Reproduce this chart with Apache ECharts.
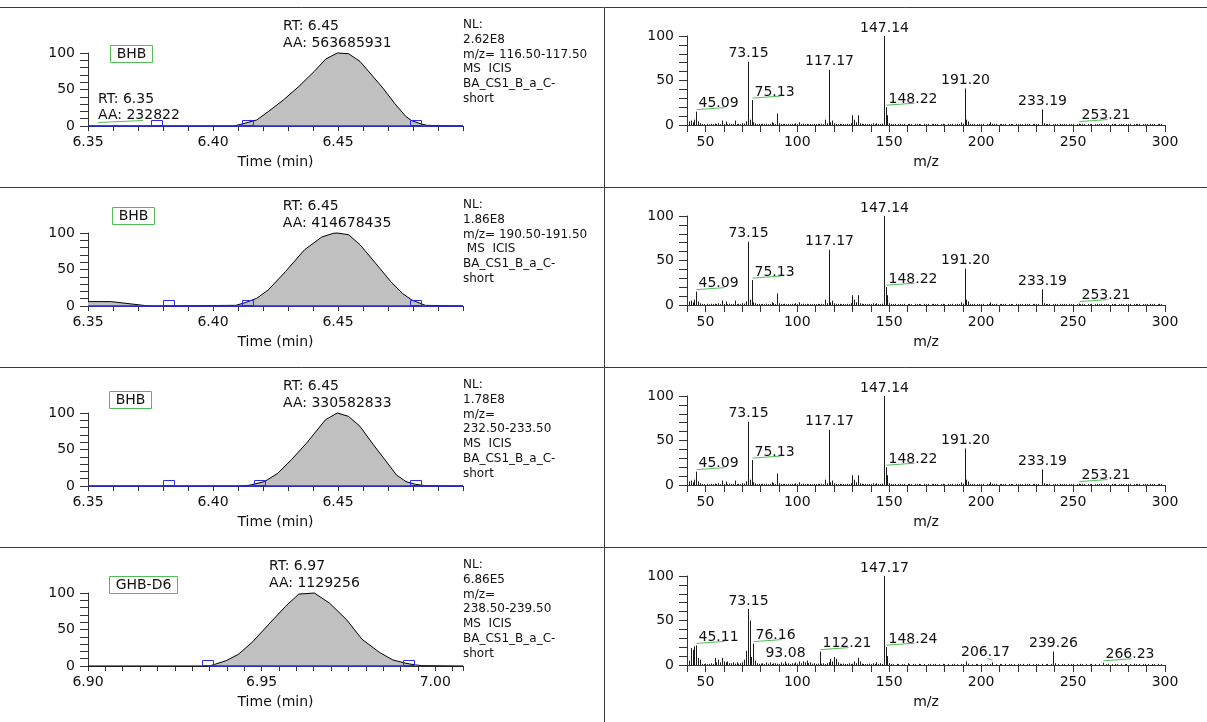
<!DOCTYPE html>
<html>
<head>
<meta charset="utf-8">
<script src="https://cdn.jsdelivr.net/npm/echarts@6/dist/echarts.min.js"></script>
<style>
  html, body { margin: 0; padding: 0; background: #fff; }
  #chart { width: 1207px; height: 722px; }
</style>
</head>
<body>
<div id="chart"></div>
<script>
// ---------- compound / acquisition info ----------
const compounds = ['BHB', 'BHB', 'BHB', 'GHB-D6'];
const rtText = ['6.45', '6.45', '6.45', '6.97'];
const areaText = ['563685931', '414678435', '330582833', '1129256'];
const nlLines = [
  ['NL:', '2.62E8', 'm/z= 116.50-117.50', 'MS  ICIS', 'BA_CS1_B_a_C-', 'short'],
  ['NL:', '1.86E8', 'm/z= 190.50-191.50', ' MS  ICIS', 'BA_CS1_B_a_C-', 'short'],
  ['NL:', '1.78E8', 'm/z=', '232.50-233.50', 'MS  ICIS', 'BA_CS1_B_a_C-', 'short'],
  ['NL:', '6.86E5', 'm/z=', '238.50-239.50', 'MS  ICIS', 'BA_CS1_B_a_C-', 'short']
];
// secondary peak in the first trace
const minorRt = '6.35';
const minorArea = '232822';
const minorAnchor = 6.35;

// ---------- chromatogram traces (time in min, relative abundance %) ----------
const trace1Time = [6.35, 6.4083, 6.4117, 6.4175, 6.4221, 6.4282, 6.4343, 6.4405, 6.4451, 6.4497, 6.4542, 6.4588, 6.4634, 6.4680, 6.4726, 6.4772, 6.4795, 6.4833, 6.4856, 6.50];
const trace1Int  = [0, 0, 2.8, 8.3, 19.7, 35.8, 54.1, 74.8, 91.7, 100, 99.1, 88.5, 70.2, 51.8, 31.2, 12.8, 7.3, 2.8, 0.9, 0];
const trace2Time = [6.35, 6.3593, 6.3731, 6.3760, 6.4091, 6.4129, 6.4175, 6.4221, 6.4290, 6.4366, 6.4435, 6.4481, 6.4496, 6.4542, 6.4588, 6.4650, 6.4711, 6.4757, 6.4795, 6.4849, 6.50];
const trace2Int  = [6, 6, 0.5, 0, 0.9, 4.6, 10.6, 22, 47.2, 77, 94.5, 99.5, 100, 97.7, 84, 58.7, 33.5, 17.4, 8.3, 0.9, 0];
const trace3Time = [6.35, 6.4100, 6.4144, 6.4206, 6.4259, 6.4313, 6.4374, 6.4450, 6.4497, 6.4542, 6.4588, 6.4642, 6.4688, 6.4734, 6.4772, 6.4810, 6.4849, 6.50];
const trace3Int  = [0, 0, 0.9, 6, 17.4, 35.8, 58.7, 90.8, 100, 95.4, 81.7, 56.4, 35.8, 15.1, 6, 2.3, 0.5, 0];
const trace4Time = [6.90, 6.9349, 6.9365, 6.9398, 6.9433, 6.9475, 6.9519, 6.9569, 6.9607, 6.9652, 6.9696, 6.9745, 6.9789, 6.9839, 6.9878, 6.9916, 6.9944, 6.9961, 7.008];
const trace4Int  = [0, 0, 2.3, 7.3, 16, 33.5, 56.4, 81.7, 98.5, 100, 86, 63.3, 36.7, 18.8, 8.3, 3.7, 1.4, 0.5, 0];

// integration baselines [start, end] and peak boundary marks
const baselines = [[6.35, 6.50], [6.35, 6.50], [6.35, 6.50], [6.9345, 6.9925]];
const boundaries = [
  [6.3777, 6.4140, 6.4813],
  [6.3823, 6.4140, 6.4813],
  [6.3823, 6.4186, 6.4813],
  [6.9345, 6.9925]
];

// time axis ranges
const timeMin = [6.35, 6.35, 6.35, 6.90];
const timeMax = [6.50, 6.50, 6.50, 7.008];
const timeStep = [0.01, 0.01, 0.01, 0.005];

// ---------- mass spectra [m/z, relative abundance %] ----------
const bhbPeaks = [
  [41, 4], [42, 5], [43, 3], [44, 6], [45.09, 15], [46, 4], [47, 2], [48, 1.2], [49, 1], [51, 1.3], [52, 0.8],
  [53, 1.4], [54, 1], [55, 1.5], [56, 1.1], [57, 2], [58, 1], [59, 5], [60, 1.2], [61, 4], [62, 1], [63, 1.5],
  [64, 1], [65, 1.2], [66, 5], [67, 1], [68, 1.4], [69, 1], [70, 2], [71, 1.6], [72, 4], [73.15, 71], [74, 6],
  [75.13, 28], [76, 3], [77, 2], [78, 1], [79, 1.3], [80, 1], [81, 1.2], [82, 1], [83, 1.5], [84, 1], [85, 1.2],
  [86, 3], [87, 2], [88, 1], [89, 13], [90, 2], [91, 1.2], [92, 1], [93, 1.4], [94, 1], [95, 1.2], [96, 0.9],
  [97, 1.3], [98, 1], [99, 2], [100, 1], [101, 3], [102, 1.2], [103, 1.5], [104, 1], [105, 1.3], [106, 0.9],
  [107, 1.2], [108, 1], [109, 1.3], [110, 1], [111, 1.2], [112, 1], [113, 1.4], [114, 1], [115, 6], [116, 2],
  [117.17, 62], [118, 3], [119, 5], [120, 2], [121, 1.2], [122, 1], [123, 1.3], [124, 1], [125, 1.2], [126, 0.9],
  [127, 1.3], [128, 1], [129, 2], [130, 11], [131, 6], [132, 3], [133, 11], [134, 2], [135, 1.5], [136, 1],
  [137, 1.2], [138, 1], [139, 1.3], [140, 1], [141, 2], [142, 1], [143, 2], [144, 1.2], [145, 1], [146, 1.5],
  [147.14, 100], [148.22, 20], [149, 11], [150, 2], [151, 1.2], [152, 1], [153, 1.3], [155, 1], [156, 1.2],
  [157, 0.9], [158, 1.3], [160, 1], [161, 1.2], [162, 1], [164, 1.3], [165, 1], [166, 1.2], [167, 0.9],
  [169, 1.3], [170, 1], [171, 1.2], [173, 1], [174, 1.3], [175, 1], [176, 1.2], [178, 1], [179, 1.3],
  [180, 1], [182, 1.2], [183, 1], [184, 1.3], [186, 1], [187, 1.2], [188, 1], [189, 3], [190, 1.5],
  [191.20, 41], [192, 6], [193, 4], [194, 1.2], [195, 1], [196, 1.3], [198, 1], [199, 1.2], [200, 1],
  [201, 1.3], [203, 1], [204, 1.2], [205, 3], [206, 1.2], [207, 1], [208, 1.3], [210, 1], [211, 1.2],
  [212, 1], [213, 1.3], [215, 1], [216, 1.2], [217, 1], [219, 1.3], [220, 1], [221, 1.2], [222, 1],
  [224, 1.3], [225, 1], [226, 1.2], [228, 1], [229, 1.3], [230, 1], [231, 1.2], [233.19, 17.6], [234, 2],
  [235, 1.2], [236, 1], [237, 1.3], [239, 1], [240, 1.2], [241, 1], [243, 1.3], [244, 1], [245, 1.2],
  [246, 1], [248, 1.3], [249, 1], [250, 1.2], [252, 1], [253.21, 1.6], [254, 1], [255, 1.3], [256, 1],
  [258, 1.2], [259, 1], [260, 1.3], [262, 1], [263, 1.2], [264, 1], [265, 1.3], [267, 1], [268, 1.2],
  [269, 1], [271, 1.3], [272, 1], [273, 1.2], [275, 1], [276, 1.3], [277, 1], [279, 1.2], [280, 1],
  [281, 1.3], [283, 1], [284, 1.2], [285, 1], [286, 1.3], [288, 1], [289, 1.2], [290, 1], [292, 1.3],
  [293, 1], [294, 1.2], [296, 1], [297, 1.3], [298, 1]
];
const bhbLabels = [45.09, 73.15, 75.13, 117.17, 147.14, 148.22, 191.20, 233.19, 253.21];
const bhbLeader = [45.09, 75.13, 148.22, 253.21];

const ghbPeaks = [
  [41, 5], [42, 19], [43, 17], [44, 21], [45.11, 22], [46, 8], [47, 6], [48, 1.2], [49, 1], [50, 1.5], [51, 1],
  [52, 1.3], [53, 2], [54, 1.2], [55, 8], [56, 3], [57, 6], [58, 3], [59, 8], [60, 4], [61, 3], [62, 4],
  [63, 2], [64, 2], [65, 3], [66, 1.5], [67, 3], [68, 1.5], [69, 2], [70, 3], [71, 6], [72, 16], [73.15, 63],
  [74, 50], [75, 9], [76.16, 24], [77, 5], [78, 2], [79, 1.2], [80, 1.5], [81, 2], [82, 1.2], [83, 3],
  [84, 1.5], [85, 3], [86, 1.2], [87, 2], [88, 2], [89, 1.5], [90, 1.2], [91, 3], [92, 1.5], [93.08, 4],
  [94, 1.5], [95, 2], [96, 1.2], [97, 2], [98, 1.5], [99, 3], [100, 1.5], [101, 4], [102, 2], [103, 4],
  [104, 3], [105, 5], [106, 2], [107, 3], [108, 1.5], [109, 2], [110, 1.2], [111, 1.5], [112.21, 15],
  [113, 1.5], [114, 2], [115, 1.2], [116, 2], [117, 3], [118, 7], [119, 4], [120, 9], [121, 7], [122, 3],
  [123, 1.5], [124, 1.2], [125, 1.5], [126, 1], [127, 1.2], [128, 2], [129, 1], [130, 1.5], [131, 4],
  [132, 2], [133, 8], [134, 4], [135, 1.5], [136, 1.2], [137, 1], [138, 1.2], [139, 1.5], [140, 1],
  [141, 2], [142, 1.2], [143, 3], [144, 1.2], [145, 2], [146, 1.2], [147.17, 100], [148.24, 20], [149, 10],
  [150, 2], [151, 1.2], [152, 1], [154, 1.3], [155, 1], [157, 1.2], [158, 1], [160, 2], [161, 1],
  [163, 1.2], [164, 1], [166, 1.3], [167, 1], [169, 1.2], [171, 1], [172, 1.3], [174, 1], [175, 1.2],
  [177, 1], [179, 1.3], [180, 1], [182, 1.2], [184, 1], [185, 1.3], [187, 1], [189, 1.2], [190, 1],
  [192, 4], [193, 1.5], [195, 1], [197, 1.2], [198, 1], [200, 1.3], [202, 1], [203, 1.2], [205, 1],
  [206.17, 3], [208, 1], [210, 1.2], [211, 1], [213, 1.3], [215, 1], [216, 1.2], [218, 1], [220, 1.3],
  [221, 1], [223, 1.2], [225, 1], [226, 1.3], [228, 1], [230, 1.2], [231, 1], [233, 1.3], [235, 1],
  [236, 1.2], [238, 1], [239.26, 15], [240, 2], [242, 1], [244, 1.2], [245, 1], [247, 1.3], [249, 1],
  [250, 1.2], [252, 1], [254, 1.3], [255, 1], [257, 1.2], [259, 1], [260, 1.3], [262, 1], [264, 1.2],
  [266.23, 2.5], [268, 1], [269, 1.3], [271, 1], [273, 1.2], [274, 1], [276, 1.3], [278, 1], [279, 1.2],
  [281, 1], [283, 1.3], [284, 1], [286, 1.2], [288, 1], [289, 1.3], [291, 1], [293, 1.2], [294, 1],
  [296, 1.3], [298, 1]
];
const ghbLabels = [45.11, 73.15, 76.16, 93.08, 112.21, 147.17, 148.24, 206.17, 239.26, 266.23];
const ghbLeader = [45.11, 76.16, 112.21, 148.24, 266.23];
const ghbNudge = [206.17];

// ---------- rendering ----------
const FONT = '"DejaVu Sans", "Liberation Sans", sans-serif';
const INK = '#111';
const BLUE = '#2a2af2';
const GREEN = '#52bd57';
const ROW0 = 7.5, ROWH = 180;

const traces = [
  [trace1Time, trace1Int], [trace2Time, trace2Int], [trace3Time, trace3Int], [trace4Time, trace4Int]
];
const spectra = [
  [bhbPeaks, bhbLabels, bhbLeader, []],
  [bhbPeaks, bhbLabels, bhbLeader, []],
  [bhbPeaks, bhbLabels, bhbLeader, []],
  [ghbPeaks, ghbLabels, ghbLeader, ghbNudge]
];
// layout of the compound tag boxes (x, offset from row top)
const tagBox = [[110, 37.5], [112, 19.5], [109, 23.5], [109, 28.5]];

const measureCtx = document.createElement('canvas').getContext('2d');
function textWidth(s, size) {
  measureCtx.font = size + 'px ' + FONT;
  return measureCtx.measureText(s).width;
}
function intensityOf(peaks, mz) {
  const p = peaks.find(q => Math.abs(q[0] - mz) < 1e-6);
  return p ? p[1] : 0;
}
const txt = (size) => ({ fontSize: size, fontFamily: FONT, color: INK });

const grids = [], xAxes = [], yAxes = [], series = [], graphics = [];

for (let r = 0; r < 4; r++) {
  const top = ROW0 + r * ROWH;
  const gl = 2 * r, gr = 2 * r + 1;

  // chromatogram panel
  grids.push({ left: 88, width: 375, top: top + 45.5, height: 73 });
  const tMax = timeMax[r];
  xAxes.push({
    gridIndex: gl, type: 'value', min: timeMin[r], max: tMax, interval: timeStep[r],
    axisLine: { lineStyle: { color: '#333', width: 1 } },
    axisTick: { length: 5, lineStyle: { color: '#333' } },
    splitLine: { show: false },
    axisLabel: Object.assign(txt(14), {
      margin: 9, showMinLabel: true, showMaxLabel: true,
      formatter: v => {
        const k = Math.round(v * 20);
        return (Math.abs(v * 20 - k) < 1e-6 && v < tMax - 1e-6) ? v.toFixed(2) : '';
      }
    }),
    name: 'Time (min)', nameLocation: 'middle', nameGap: 29, nameTextStyle: txt(14)
  });
  yAxes.push({
    gridIndex: gl, type: 'value', min: 0, max: 100, interval: 10,
    axisLine: { show: true, lineStyle: { color: '#333' } },
    axisTick: { show: true, length: 8, lineStyle: { color: '#333' } },
    splitLine: { show: false },
    axisLabel: Object.assign(txt(14), { margin: 13, formatter: v => (v % 50 === 0 ? String(v) : '') })
  });

  // spectrum panel
  grids.push({ left: 687, width: 478, top: top + 28.5, height: 89 });
  xAxes.push({
    gridIndex: gr, type: 'value', min: 40, max: 300, interval: 10,
    axisLine: { lineStyle: { color: '#333', width: 1 } },
    axisTick: { length: 7, lineStyle: { color: '#333' } },
    splitLine: { show: false },
    axisLabel: Object.assign(txt(14), { margin: 10, formatter: v => (v % 50 === 0 ? String(v) : '') }),
    name: 'm/z', nameLocation: 'middle', nameGap: 30, nameTextStyle: txt(14)
  });
  yAxes.push({
    gridIndex: gr, type: 'value', min: 0, max: 100, interval: 10,
    axisLine: { show: true, lineStyle: { color: '#333' } },
    axisTick: { show: true, length: 8, lineStyle: { color: '#333' } },
    splitLine: { show: false },
    axisLabel: Object.assign(txt(14), { margin: 13, formatter: v => (v % 50 === 0 ? String(v) : '') })
  });

  // --- chromatogram trace ---
  const [tt, ii] = traces[r];
  series.push({
    type: 'line', xAxisIndex: gl, yAxisIndex: gl, data: tt.map((t, k) => [t, ii[k]]),
    symbol: 'none', clip: false, silent: true, z: 2,
    lineStyle: { color: '#000', width: 1 },
    areaStyle: { color: '#c0c0c0', opacity: 1 }
  });
  // integration baseline
  series.push({
    type: 'custom', xAxisIndex: gl, yAxisIndex: gl, silent: true, z: 5,
    data: [[baselines[r][0], 0, baselines[r][1]]],
    renderItem: (p, api) => {
      const a = api.coord([api.value(0), 0]), b = api.coord([api.value(2), 0]);
      return { type: 'line', shape: { x1: a[0], y1: a[1], x2: b[0], y2: b[1] }, style: { stroke: BLUE, lineWidth: 1.5 } };
    }
  });
  // peak boundary marks
  series.push({
    type: 'custom', xAxisIndex: gl, yAxisIndex: gl, silent: true, z: 6,
    data: boundaries[r].map(t => [t, 0]),
    renderItem: (p, api) => {
      const c = api.coord([api.value(0), 0]);
      return { type: 'rect', shape: { x: Math.round(c[0]) - 5.5, y: Math.round(c[1]) - 5.5, width: 11, height: 5 },
        style: { stroke: BLUE, fill: 'none', lineWidth: 1 } };
    }
  });
  // apex annotation (RT / AA)
  let apex = 0;
  ii.forEach((v, k) => { if (v > ii[apex]) apex = k; });
  series.push({
    type: 'custom', xAxisIndex: gl, yAxisIndex: gl, silent: true, z: 7,
    data: [[tt[apex], ii[apex]]],
    renderItem: (p, api) => {
      const c = api.coord([api.value(0), api.value(1)]);
      const rtS = 'RT: ' + rtText[r], aaS = 'AA: ' + areaText[r];
      const left = c[0] - textWidth(aaS, 14) / 2;
      const st = s => ({ text: s, fill: INK, fontSize: 14, fontFamily: FONT, align: 'left', verticalAlign: 'middle' });
      return { type: 'group', children: [
        { type: 'text', x: left, y: c[1] - 27, style: st(rtS) },
        { type: 'text', x: left, y: c[1] - 10, style: st(aaS) }
      ] };
    }
  });
  if (r === 0) {
    series.push({
      type: 'custom', xAxisIndex: gl, yAxisIndex: gl, silent: true, z: 7,
      data: [[minorAnchor, 0]],
      renderItem: (p, api) => {
        const c = api.coord([api.value(0), 0]);
        const st = s => ({ text: s, fill: INK, fontSize: 14, fontFamily: FONT, align: 'left', verticalAlign: 'middle' });
        return { type: 'group', children: [
          { type: 'text', x: c[0] + 10, y: c[1] - 27, style: st('RT: ' + minorRt) },
          { type: 'text', x: c[0] + 10, y: c[1] - 11, style: st('AA: ' + minorArea) },
          { type: 'line', shape: { x1: c[0] + 10, y1: c[1] - 3.5, x2: c[0] + 55, y2: c[1] - 5.5 }, style: { stroke: GREEN, lineWidth: 1 } }
        ] };
      }
    });
  }

  // --- spectrum sticks ---
  const [peaks, labels, leader, nudge] = spectra[r];
  series.push({
    type: 'custom', xAxisIndex: gr, yAxisIndex: gr, silent: true, z: 3,
    data: peaks,
    renderItem: (p, api) => {
      const a = api.coord([api.value(0), 0]), b = api.coord([api.value(0), api.value(1)]);
      const x = Math.round(a[0]) + 0.5;
      return { type: 'line', shape: { x1: x, y1: a[1], x2: x, y2: b[1] }, style: { stroke: '#1a1a1a', lineWidth: 1 } };
    }
  });
  series.push({
    type: 'custom', xAxisIndex: gr, yAxisIndex: gr, silent: true, z: 4,
    data: labels.map(m => [m, intensityOf(peaks, m)]),
    renderItem: (p, api) => {
      const m = api.value(0);
      const c = api.coord([m, api.value(1)]);
      const x = Math.round(c[0]) + 0.5, y = c[1];
      const s = m.toFixed(2);
      const base = { text: s, fill: INK, fontSize: 14, fontFamily: FONT, verticalAlign: 'middle' };
      if (leader.some(v => Math.abs(v - m) < 1e-6)) {
        return { type: 'group', children: [
          { type: 'text', x: x + 2, y: y - 8, style: Object.assign({ align: 'left' }, base) },
          { type: 'line', shape: { x1: x, y1: y - 2, x2: x + 28, y2: y - 4 }, style: { stroke: GREEN, lineWidth: 1 } }
        ] };
      }
      if (nudge.some(v => Math.abs(v - m) < 1e-6)) {
        return { type: 'group', children: [
          { type: 'text', x: x - 7, y: y - 9.5, style: Object.assign({ align: 'center' }, base) },
          { type: 'line', shape: { x1: x - 5, y1: y - 4, x2: x, y2: y - 2 }, style: { stroke: GREEN, lineWidth: 1 } }
        ] };
      }
      return { type: 'text', x: x, y: y - 8, style: Object.assign({ align: 'center' }, base) };
    }
  });

  // --- panel furniture ---
  graphics.push({ type: 'line', shape: { x1: 0, y1: top, x2: 1207, y2: top }, style: { stroke: '#3a3a3a', lineWidth: 1 }, silent: true });
  graphics.push({
    type: 'text', x: 463, y: top + 10, silent: true,
    style: { text: nlLines[r].join('\n'), fill: INK, fontSize: 12, fontFamily: FONT, lineHeight: 14.8, align: 'left', verticalAlign: 'top' }
  });
  const tw = textWidth(compounds[r], 14) + 12;
  graphics.push({
    type: 'group', x: tagBox[r][0], y: top + tagBox[r][1], silent: true,
    children: [
      { type: 'rect', shape: { x: 0.5, y: 0.5, width: Math.round(tw), height: 17 }, style: { stroke: GREEN, fill: '#fff', lineWidth: 1 } },
      { type: 'text', x: 0.5 + Math.round(tw) / 2, y: 9, style: { text: compounds[r], fill: INK, fontSize: 14, fontFamily: FONT, align: 'center', verticalAlign: 'middle' } }
    ]
  });
}
graphics.push({ type: 'line', shape: { x1: 604.5, y1: ROW0, x2: 604.5, y2: 722 }, style: { stroke: '#3a3a3a', lineWidth: 1 }, silent: true });

const chart = echarts.init(document.getElementById('chart'), null, { renderer: 'canvas' });
chart.setOption({
  backgroundColor: '#fff',
  animation: false,
  grid: grids,
  xAxis: xAxes,
  yAxis: yAxes,
  series: series,
  graphic: graphics
});
</script>
</body>
</html>
